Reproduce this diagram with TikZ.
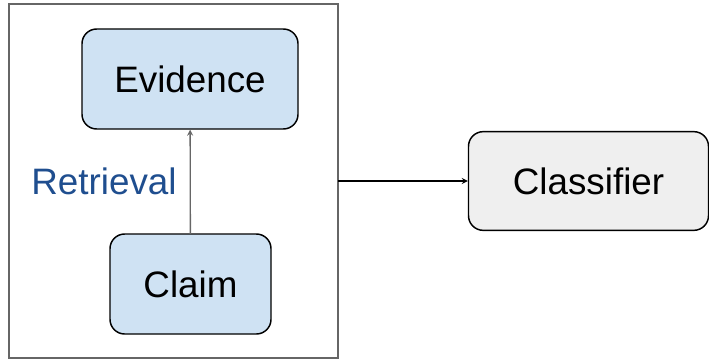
\documentclass[tikz,border=0pt]{standalone}
\usepackage{fontspec}
\setmainfont{Liberation Sans}
\definecolor{boxblue}{HTML}{CFE2F3}
\definecolor{boxgray}{HTML}{EFEFEF}
\definecolor{labelblue}{HTML}{1F4E8F}
\definecolor{framegray}{HTML}{666666}
\begin{document}
\begin{tikzpicture}[x=0.75pt, y=-0.75pt, every node/.style={outer sep=0pt, font=\fontsize{27.6}{32}\selectfont},
    box/.style={draw=black, line width=1.1pt, rounded corners=11pt, fill=boxblue},
    arrow/.style={->, >=stealth, shorten >=0.5pt}]
    \useasboundingbox (0,0) rectangle (709,360);
    \node[draw=framegray, line width=1.1pt, minimum width=246.75pt, minimum height=265.5pt](frame) at (173.5,181) {};

    \node[box, minimum width=162pt, minimum height=75pt](evidence) at (190,79) {Evidence};
    \node[box, minimum width=120.75pt, minimum height=75pt](claim) at (190.5,284) {Claim};
    \node[box, fill=boxgray, minimum width=180pt, minimum height=74pt](classifier) at (588.5,181) {Classifier};

    \node[text=labelblue](retrieval) at (104,181) {Retrieval};

    \draw[arrow, draw=framegray, line width=1pt] (claim) -- (evidence);
    \draw[arrow, line width=1pt] (frame.east) -- (classifier.west);
\end{tikzpicture}
\end{document}
